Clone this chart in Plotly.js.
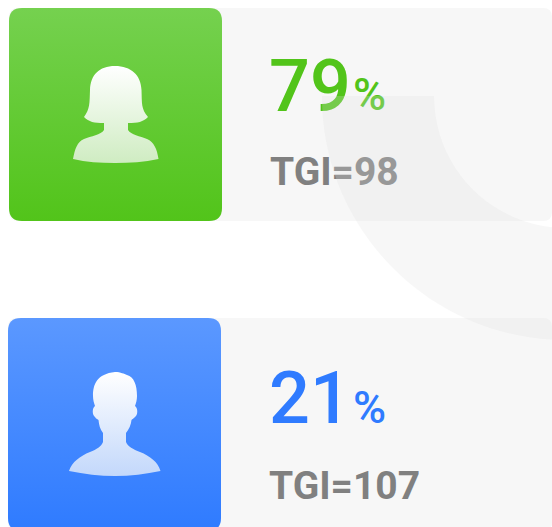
<!DOCTYPE html>
<html><head><meta charset="utf-8">
<script src="https://cdn.plot.ly/plotly-3.0.1.min.js"></script>
<style>html,body{margin:0;padding:0;background:#fff;overflow:hidden}</style>
</head><body><div id="chart" style="width:552px;height:527px"></div>
<script>
var groups = ['女', '男'];
var shares = [79, 21];
var tgi = [98, 107];
var colors = ['#52c41a', '#2f7bff'];
var tileTop = ['#75d14f', '#5b98ff'];
var tileBottom = ['#52c41a', '#2f7bff'];
var iconBottom = ['#cfecc2', '#c3d8fb'];

var rowTop = [8, 318];
var tileLeft = [9, 8];
var tgiLeft = [270, 269];

function rr(x0, y0, x1, y1, r) {
  return 'M' + (x0 + r) + ',' + y0 + 'L' + (x1 - r) + ',' + y0 + 'Q' + x1 + ',' + y0 + ' ' + x1 + ',' + (y0 + r) +
    'L' + x1 + ',' + (y1 - r) + 'Q' + x1 + ',' + y1 + ' ' + (x1 - r) + ',' + y1 +
    'L' + (x0 + r) + ',' + y1 + 'Q' + x0 + ',' + y1 + ' ' + x0 + ',' + (y1 - r) +
    'L' + x0 + ',' + (y0 + r) + 'Q' + x0 + ',' + y0 + ' ' + (x0 + r) + ',' + y0 + 'Z';
}

var woman = 'M115,66 C131,66 141,75 141.5,90 C142,103 141,109 148,117 C143,122 138,123 128,123 L128,130 C131,135 140,136 147,139 C154,142 157,149 158.5,159 C144,162 130,163 115,163 C100,163 86,162 73,159 C75,149 77,142 84,139 C91,136 101,135 104,130 L104,123 C94,123 89,122 84,117 C90,109 89.5,103 90,90 C90.5,75 99,66 115,66 Z';
var man = 'M115,372 C121,372 124,374 127,375 C134,377 137,385 137,396 C137,400 136,403 135,406 C138,408 138,415 135,417 C133,419 132,419 131.5,420 C131,425 129,429 126,433 L126,442 C128,447 133,449 140,452 C150,456 158,462 160.5,471 C146,474 130,476 115,476 C100,476 84,474 69,471 C72,462 80,456 90,452 C97,449 101,447 103,442 L103,433 C100,429 99,425 98.5,420 C98,419 96,419 95,417 C92,415 92,408 95,406 C94,403 93,400 93,396 C93,384 97,374 115,372 Z';
var icons = [woman, man];

var ring = 'M322,96 C322,230.8 431.2,340 566,340 L566,228 C493.1,228 434,168.9 434,96 Z';

var shapes = [];
var gradients = [];
rowTop.forEach(function (t, i) {
  shapes.push({type: 'path', layer: 'below', path: rr(tileLeft[i], t, 552, t + 213, 9), fillcolor: '#f7f7f7', line: {width: 0}});
  shapes.push({type: 'path', layer: 'below', path: rr(tileLeft[i], t, tileLeft[i] + 213, t + 213, 13), fillcolor: tileBottom[i], line: {width: 0}});
  gradients.push({index: shapes.length - 1, id: 'tile' + i, a: tileTop[i], b: tileBottom[i]});
  shapes.push({type: 'path', layer: 'below', path: icons[i], fillcolor: '#ffffff', line: {width: 0}});
  gradients.push({index: shapes.length - 1, id: 'icon' + i, a: '#ffffff', b: iconBottom[i]});
});
shapes.push({type: 'path', layer: 'above', path: ring, fillcolor: 'rgba(223,223,223,0.25)', line: {width: 0}});

var font = 'Roboto, "Noto Sans", sans-serif';
var yValue = [rowTop[0] + 85, rowTop[1] + 87];
var ySign = [rowTop[0] + 91, rowTop[1] + 94];
var yTgi = [rowTop[0] + 167, rowTop[1] + 171];

var traces = [
  {type: 'scatter', mode: 'text', x: [269, 269], y: yValue, text: shares.map(String), textposition: 'middle right',
   textfont: {family: font, size: 72, color: colors, weight: 500}, cliponaxis: false, hoverinfo: 'skip', name: 'share'},
  {type: 'scatter', mode: 'text', x: [353, 353], y: ySign, text: shares.map(function () { return '%'; }), textposition: 'middle right',
   textfont: {family: font, size: 45, color: colors, weight: 500}, cliponaxis: false, hoverinfo: 'skip', name: 'percent'},
  {type: 'scatter', mode: 'text', x: tgiLeft, y: yTgi, text: tgi.map(function (v) { return 'TGI=' + v; }), textposition: 'middle right',
   textfont: {family: font, size: 39, color: '#808080', weight: 700}, cliponaxis: false, hoverinfo: 'skip', name: 'TGI'}
];

var layout = {
  width: 552, height: 527, margin: {l: 0, r: 0, t: 0, b: 0},
  paper_bgcolor: '#ffffff', plot_bgcolor: '#ffffff', showlegend: false,
  xaxis: {range: [0, 552], visible: false, fixedrange: true},
  yaxis: {range: [527, 0], visible: false, fixedrange: true},
  shapes: shapes
};

Plotly.newPlot('chart', traces, layout, {displayModeBar: false, staticPlot: true}).then(function () {
  var svg = document.querySelector('#chart .main-svg');
  var defs = svg.querySelector('defs');
  var NS = 'http://www.w3.org/2000/svg';
  gradients.forEach(function (g) {
    var lg = document.createElementNS(NS, 'linearGradient');
    lg.setAttribute('id', g.id);
    lg.setAttribute('x1', '0'); lg.setAttribute('y1', '0');
    lg.setAttribute('x2', '0'); lg.setAttribute('y2', '1');
    [[0, g.a], [1, g.b]].forEach(function (s) {
      var st = document.createElementNS(NS, 'stop');
      st.setAttribute('offset', s[0]);
      st.setAttribute('stop-color', s[1]);
      lg.appendChild(st);
    });
    defs.appendChild(lg);
    var p = document.querySelector('#chart path[data-index="' + g.index + '"]');
    if (p) p.style.fill = 'url(#' + g.id + ')';
  });
});
</script></body></html>
